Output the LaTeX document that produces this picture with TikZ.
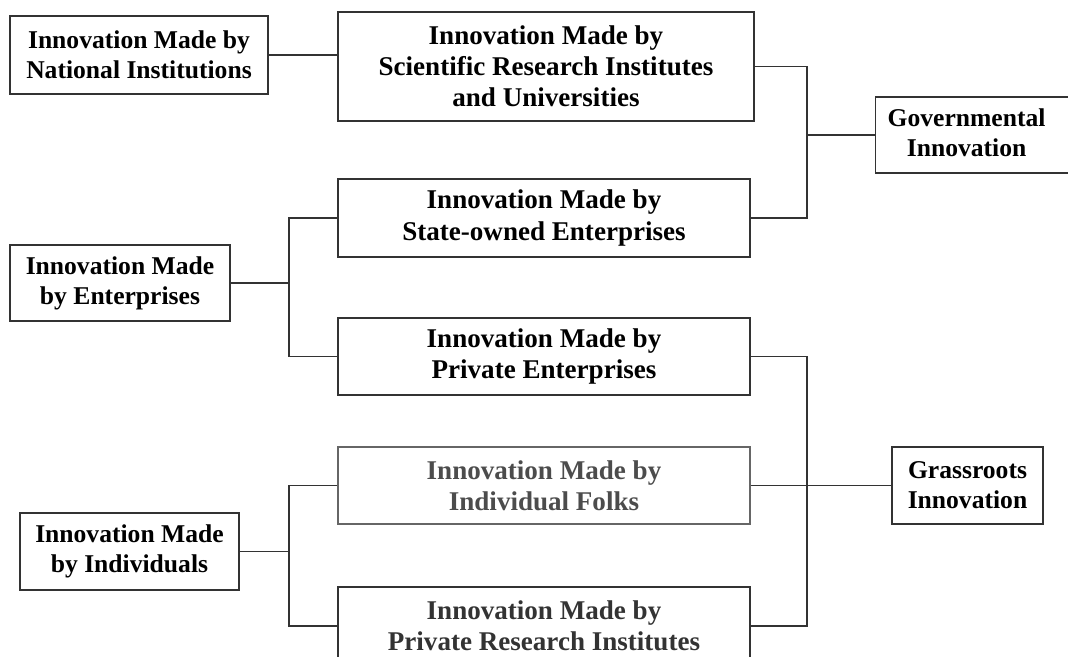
\documentclass[tikz,border=0pt]{standalone}
\usepackage{fontspec}
\setmainfont{Liberation Serif}
\newlength\pxu
\setlength\pxu{0.75pt}
\tikzset{
	boxline/.style={draw=black!80, line width=1pt},
	midbox/.style={boxline, rectangle, align=center, inner sep=0pt, font=\fontsize{20.3}{23.3}\selectfont\bfseries},
	sidebox/.style={boxline, rectangle, align=center, inner sep=0pt, font=\fontsize{19.2}{22.5}\selectfont\bfseries},
	link/.style={draw=black!80, line width=0.9pt}
}
\begin{document}
\begin{tikzpicture}[x=0.75pt, y=-0.75pt]
					\useasboundingbox (0,0) rectangle (1068,657);

					\node [sidebox, minimum width=258\pxu, minimum height=78\pxu] (nat) at (139,55) {Innovation Made by\\National Institutions};
					\node [sidebox, minimum width=220\pxu, minimum height=76\pxu] (ent) at (120,283) {Innovation Made\\by Enterprises};
					\node [sidebox, minimum width=219\pxu, minimum height=77\pxu] (ind) at (129.5,551.5) {Innovation Made\\by Individuals};

					\node [midbox, minimum width=416\pxu, minimum height=109\pxu] (sci) at (546,66.5) {Innovation Made by\\Scientific Research Institutes\\and Universities};
					\node [midbox, minimum width=412\pxu, minimum height=78\pxu] (soe) at (544,218) {Innovation Made by\\State-owned Enterprises};
					\node [midbox, minimum width=412\pxu, minimum height=77\pxu] (pe) at (544,356.5) {Innovation Made by\\Private Enterprises};
					\node [midbox, minimum width=412\pxu, minimum height=77\pxu, text=black!70, draw=black!60] (folk) at (544,485.5) {Innovation Made by\\Individual Folks};
					\node [midbox, minimum width=412\pxu, minimum height=78\pxu, text=black!80] (pri) at (544,626) {Innovation Made by\\Private Research Institutes};

					\node [sidebox, anchor=west, minimum height=76\pxu, inner xsep=12\pxu] (gov) at (875,135) {\begin{tabular}{@{}c@{}}Governmental\\Innovation\end{tabular}\hspace{60\pxu}};
					\node [sidebox, minimum width=151\pxu, minimum height=77\pxu] (grass) at (967.5,485.5) {Grassroots\\Innovation};

					\coordinate (gj) at (807,135);
					\coordinate (rj) at (807,485.5);
					\coordinate (ej) at (289,283);
					\coordinate (ij) at (289,551.5);

					\draw [link] (nat.east) -- (nat.east -| sci.west);
					\draw [link] (sci.east) -| (gj) |- (soe.east);
					\draw [link] (gj) -- (gov.west);

					\draw [link] (ent.east) -- (ej);
					\draw [link] (soe.west) -| (ej) |- (pe.west);

					\draw [link] (ind.east) -- (ij);
					\draw [link] (folk.west) -| (ij) |- (pri.west);

					\draw [link] (pe.east) -| (rj) |- (pri.east);
					\draw [link] (folk.east) -- (grass.west);
				\end{tikzpicture}
\end{document}
